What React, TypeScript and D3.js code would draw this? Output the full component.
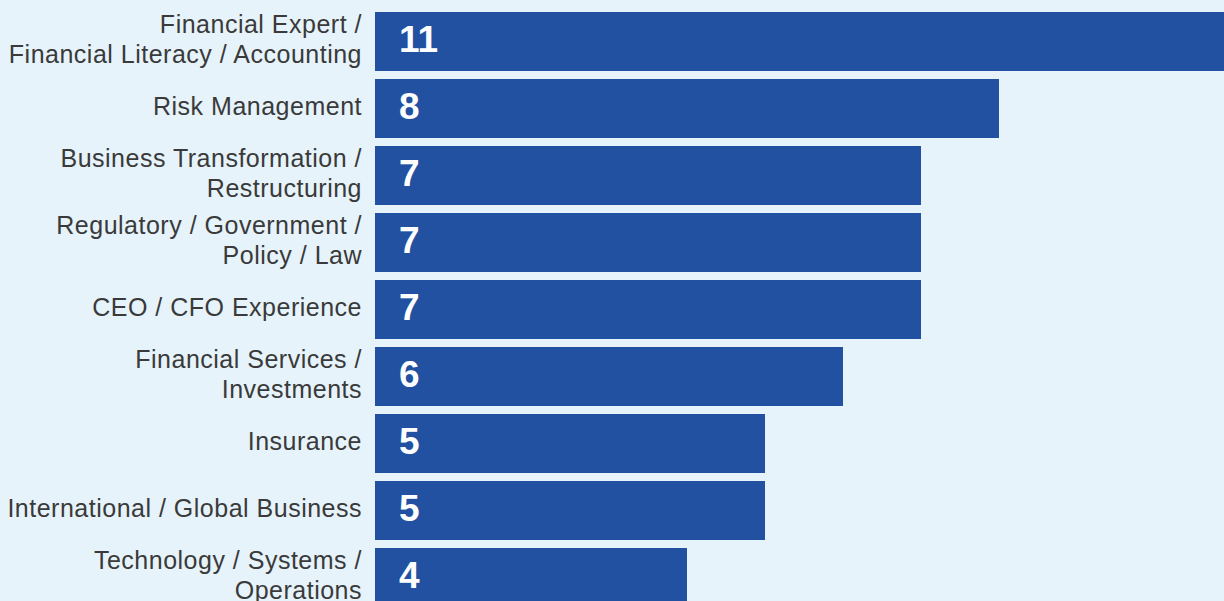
import * as d3 from "d3"

// Board skills count (horizontal bars)
const categories: string[][] = [
  ["Financial Expert /", "Financial Literacy / Accounting"],
  ["Risk Management"],
  ["Business Transformation /", "Restructuring"],
  ["Regulatory / Government /", "Policy / Law"],
  ["CEO / CFO Experience"],
  ["Financial Services /", "Investments"],
  ["Insurance"],
  ["International / Global Business"],
  ["Technology / Systems /", "Operations"],
]
const counts = [11, 8, 7, 7, 7, 6, 5, 5, 4]

const W = 1224
const H = 601
const BG = "#e6f3fb"
const BAR = "#2151a0"
const TEXT = "#3a3a3a"

const App = () => {
  const ids = categories.map((_, i) => String(i))

  // x: 78px per unit starting at the bar baseline
  const x = d3.scaleLinear().domain([0, 11]).range([375, 1233])

  const y = d3
    .scaleBand<string>()
    .domain(ids)
    .range([12, 607])
    .paddingInner(8 / 67)
    .paddingOuter(0)

  const labelSize = 25
  const lineH = 30

  return (
    <svg
      width={W}
      height={H}
      style={{ position: "absolute", left: 0, top: 0, display: "block" }}
      fontFamily="'Liberation Sans', Arial, Helvetica, sans-serif"
    >
      <rect x={0} y={0} width={W} height={H} fill={BG} />
      {ids.map((id, i) => {
        const top = y(id) ?? 0
        const bw = y.bandwidth()
        const cy = top + bw / 2
        const lines = categories[i]
        return (
          <g key={id}>
            <rect x={x(0)} y={top} width={x(counts[i]) - x(0)} height={bw} fill={BAR} />
            <text
              x={x(0) + 24}
              y={cy + 10.5}
              fill="#ffffff"
              fontWeight="bold"
              fontSize={37}
            >
              {counts[i]}
            </text>
            {lines.map((ln, j) => (
              <text
                key={j}
                x={x(0) - 13}
                y={cy + 6.5 + (j - (lines.length - 1) / 2) * lineH}
                textAnchor="end"
                fontSize={labelSize}
                letterSpacing={0.5}
                fill={TEXT}
              >
                {ln}
              </text>
            ))}
          </g>
        )
      })}
    </svg>
  )
}

export default App
